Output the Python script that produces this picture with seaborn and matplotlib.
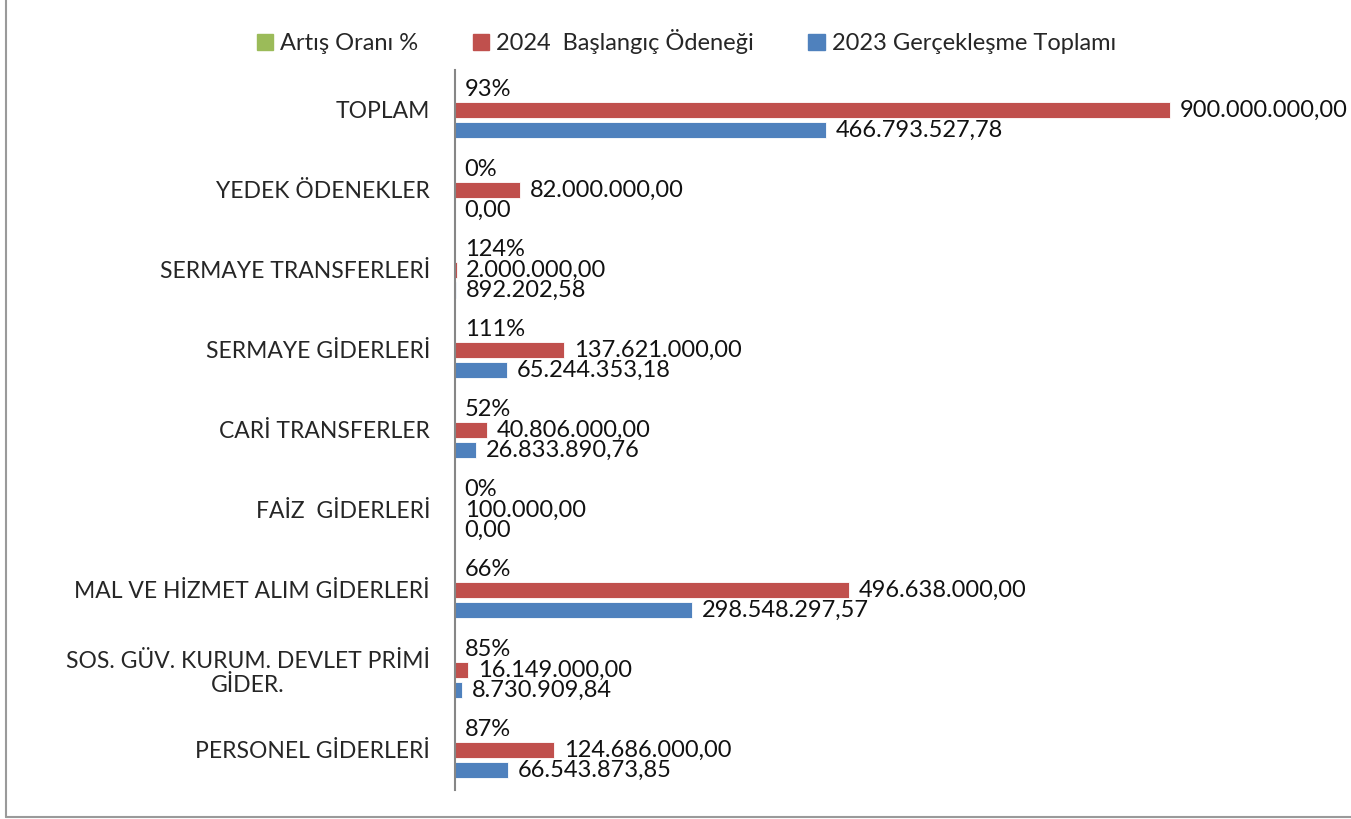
import pandas as pd
import matplotlib.pyplot as plt
import seaborn as sns
from matplotlib.lines import Line2D

categories = [
    "TOPLAM",
    "YEDEK ÖDENEKLER",
    "SERMAYE TRANSFERLERİ",
    "SERMAYE GİDERLERİ",
    "CARİ TRANSFERLER",
    "FAİZ  GİDERLERİ",
    "MAL VE HİZMET ALIM GİDERLERİ",
    "SOS. GÜV. KURUM. DEVLET PRİMİ\nGİDER.",
    "PERSONEL GİDERLERİ",
]
artis_orani = [0.93, 0.00, 1.24, 1.11, 0.52, 0.00, 0.66, 0.85, 0.87]
baslangic_2024 = [900000000.00, 82000000.00, 2000000.00, 137621000.00, 40806000.00,
                  100000.00, 496638000.00, 16149000.00, 124686000.00]
gerceklesme_2023 = [466793527.78, 0.00, 892202.58, 65244353.18, 26833890.76,
                    0.00, 298548297.57, 8730909.84, 66543873.85]

series = ["Artış Oranı %", "2024  Başlangıç Ödeneği", "2023 Gerçekleşme Toplamı"]
colors = ["#9BBB59", "#C0504D", "#4F81BD"]


def tr_money(v):
    s = f"{v:,.2f}"
    return s.replace(",", "X").replace(".", ",").replace("X", ".")


def main():
    rows = []
    for name, vals in zip(series, [artis_orani, baslangic_2024, gerceklesme_2023]):
        for cat, v in zip(categories, vals):
            rows.append({"Kalem": cat, "Seri": name, "Deger": v})
    df = pd.DataFrame(rows)

    sns.set_style("white")
    plt.rcParams["font.family"] = ["Lato", "DejaVu Sans"]

    fig = plt.figure(figsize=(13.51, 8.19), dpi=100)
    ax = fig.add_axes([455 / 1351, 29 / 819, 794 / 1351, 720 / 819])

    sns.barplot(data=df, x="Deger", y="Kalem", hue="Seri", order=categories,
                hue_order=series, palette=colors, saturation=1, orient="h",
                width=0.75, gap=0.2, edgecolor="white", linewidth=0.6,
                legend=False, ax=ax)

    ax.set_xlim(0, 1e9)
    ax.set_ylim(len(categories) - 0.5, -0.5)

    label_sets = [
        [f"{round(v * 100)}%" for v in artis_orani],
        [tr_money(v) for v in baslangic_2024],
        [tr_money(v) for v in gerceklesme_2023],
    ]
    for cont, labels in zip(ax.containers, label_sets):
        ax.bar_label(cont, labels=labels, padding=7, fontsize=17, color="#111111")

    ax.set_xlabel("")
    ax.set_ylabel("")
    ax.set_xticks([])
    ax.tick_params(axis="y", length=0, pad=18, labelsize=16.5)
    for lbl in ax.get_yticklabels():
        lbl.set_multialignment("center")
    for side in ["top", "right", "bottom"]:
        ax.spines[side].set_visible(False)
    ax.spines["left"].set_color("#868686")
    ax.spines["left"].set_linewidth(1.5)

    handles = [plt.Rectangle((0, 0), 1, 1, color=c) for c in colors]
    fig.legend(handles, series, loc="center", bbox_to_anchor=(0.508, 0.949), ncol=3,
               frameon=False, fontsize=17, handlelength=0.7, handleheight=0.7,
               handletextpad=0.3, columnspacing=2.3)

    # outer chart border (left and bottom edges visible)
    fig.add_artist(Line2D([6 / 1351, 6 / 1351], [2 / 819, 1.0], color="#9a9a9a", lw=1.5))
    fig.add_artist(Line2D([6 / 1351, 1.0], [2 / 819, 2 / 819], color="#9a9a9a", lw=1.5))

    fig.savefig("out.png", dpi=100, facecolor="white")
    plt.close(fig)


if __name__ == "__main__":
    main()
